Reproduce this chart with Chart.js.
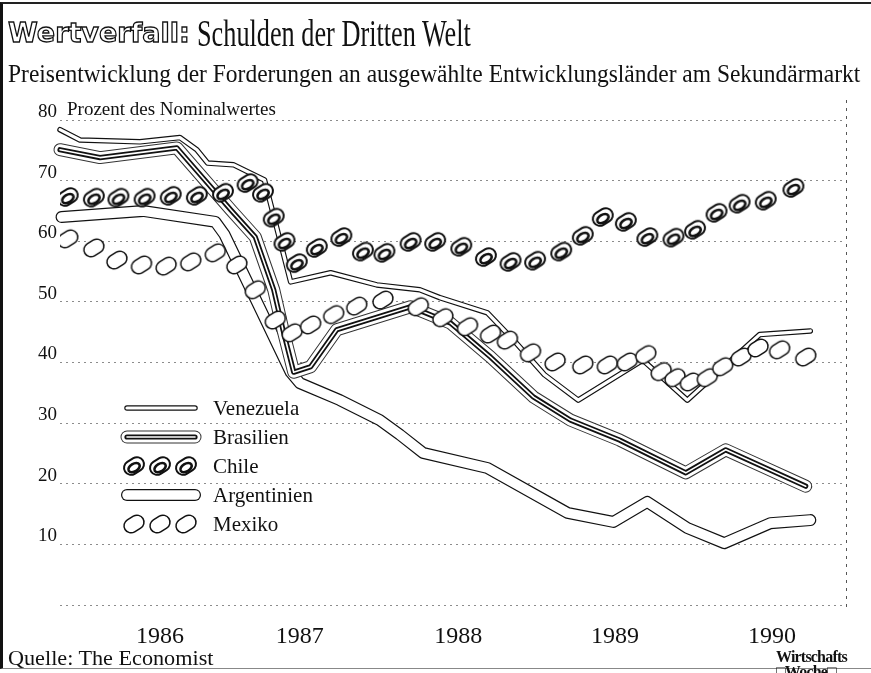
<!DOCTYPE html>
<html>
<head>
<meta charset="utf-8">
<script src="https://cdn.jsdelivr.net/npm/chart.js@4.4.1/dist/chart.umd.min.js"></script>
<style>
html, body { margin: 0; padding: 0; background: #fff; }
#wrap { position: relative; width: 871px; height: 673px; overflow: hidden; font-family: "Liberation Serif", serif; color: #111; }
#frame { position: absolute; left: 0; top: 2px; width: 871px; height: 667px; border-left: 3px solid #111; border-top: 2px solid #222; border-bottom: 1px solid #888; box-sizing: border-box; }
canvas { position: absolute; left: 0; top: 0; }
.t { position: absolute; white-space: nowrap; line-height: 1; transform-origin: 0 0; }
#head { left: 8px; top: 19px; font-family: "DejaVu Sans", sans-serif; font-weight: bold; font-size: 27px; color: #fff; -webkit-text-stroke: 1.3px #111; }
#title { left: 197px; top: 15px; font-size: 37px; }
#sub { left: 8px; top: 61px; font-size: 25px; }
#unit { left: 67px; top: 99px; font-size: 19px; }
#src { left: 8px; top: 648px; font-size: 21px; }
#logo { left: 776px; top: 649px; font-size: 16px; font-weight: bold; letter-spacing: -0.8px; line-height: 15px; }
</style>
</head>
<body>
<div id="wrap">
  <canvas id="graph" width="871" height="673"></canvas>
  <div id="frame"></div>
  <div class="t" id="head">Wertverfall:</div>
  <div class="t" id="title">Schulden der Dritten Welt</div>
  <div class="t" id="sub">Preisentwicklung der Forderungen an ausgewählte Entwicklungsländer am Sekundärmarkt</div>
  <div class="t" id="unit">Prozent des Nominalwertes</div>
  <div class="t" id="src">Quelle: The Economist</div>
  <div class="t" id="logo">Wirtschafts<br>□Woche□</div>
</div>
<script>
// x values are decimal years, y values percent of nominal value
const yearLabels = ['1986', '1987', '1988', '1989', '1990'];
const yearPos = [1986.5, 1987.41, 1988.44, 1989.46, 1990.48];

const venezuelaX = [1985.85, 1985.98, 1986.37, 1986.63, 1986.74, 1986.81, 1986.98, 1987.18, 1987.35, 1987.61, 1987.91, 1988.19, 1988.32, 1988.63, 1988.80, 1989.00, 1989.22, 1989.64, 1989.93, 1990.40, 1990.73];
const venezuelaY = [78.4, 76.7, 76.4, 77.1, 75.1, 72.9, 72.6, 70.1, 53.3, 54.8, 52.8, 52.0, 50.7, 48.2, 43.7, 38.0, 33.8, 40.4, 33.8, 44.6, 45.2];

const brasilienX = [1985.85, 1986.11, 1986.61, 1986.96, 1987.12, 1987.24, 1987.30, 1987.37, 1987.48, 1987.65, 1988.13, 1988.39, 1988.65, 1988.93, 1989.17, 1989.49, 1989.92, 1990.18, 1990.70];
const brasilienY = [75.1, 73.8, 75.4, 65.2, 60.7, 52.0, 45.4, 38.4, 39.3, 45.4, 49.2, 46.5, 40.9, 34.3, 30.5, 27.2, 21.8, 25.6, 19.6];

const chileX = [1985.90, 1986.07, 1986.23, 1986.40, 1986.57, 1986.74, 1986.91, 1987.07, 1987.17, 1987.24, 1987.31, 1987.39, 1987.52, 1987.68, 1987.82, 1987.96, 1988.13, 1988.29, 1988.46, 1988.62, 1988.78, 1988.94, 1989.11, 1989.25, 1989.38, 1989.53, 1989.67, 1989.84, 1989.98, 1990.12, 1990.27, 1990.44, 1990.62];
const chileY = [67.3, 67.2, 67.2, 67.2, 67.5, 67.5, 68.0, 69.6, 68.0, 63.9, 59.9, 56.4, 58.9, 60.7, 58.3, 58.1, 59.9, 59.9, 59.1, 57.4, 56.6, 56.8, 58.3, 60.9, 64.0, 63.2, 60.7, 60.6, 61.9, 64.7, 66.2, 66.7, 68.8];

const argentinienX = [1985.86, 1986.39, 1986.86, 1986.92, 1987.14, 1987.35, 1987.41, 1987.67, 1987.93, 1988.06, 1988.21, 1988.63, 1989.15, 1989.45, 1989.67, 1989.93, 1990.17, 1990.47, 1990.73];
const argentinienY = [64.0, 65.0, 63.2, 61.1, 49.5, 38.4, 36.6, 33.8, 30.5, 28.1, 25.1, 22.6, 15.2, 13.7, 17.0, 12.7, 10.2, 13.5, 14.0];

const mexikoX = [1985.90, 1986.07, 1986.22, 1986.38, 1986.54, 1986.70, 1986.86, 1987.00, 1987.12, 1987.25, 1987.36, 1987.48, 1987.63, 1987.78, 1987.95, 1988.18, 1988.34, 1988.50, 1988.65, 1988.76, 1988.91, 1989.07, 1989.25, 1989.41, 1989.54, 1989.66, 1989.76, 1989.85, 1989.95, 1990.06, 1990.16, 1990.28, 1990.39, 1990.53, 1990.70];
const mexikoY = [60.4, 58.9, 56.9, 56.1, 55.9, 56.6, 58.1, 56.1, 52.0, 47.0, 44.9, 46.2, 47.9, 49.3, 50.3, 49.2, 47.4, 45.9, 44.7, 43.7, 41.6, 40.1, 39.6, 39.6, 40.1, 41.3, 38.5, 37.5, 36.8, 37.5, 39.3, 40.9, 42.4, 42.1, 40.9];

const pts = (xs, ys) => xs.map((x, i) => ({ x: x, y: ys[i] }));

// little slanted capsules used as point marks
function makeOval(bold) {
	const c = document.createElement('canvas');
	c.width = 28; c.height = 24;
	const g = c.getContext('2d');
	g.translate(14, 12);
	g.rotate(-0.55);
	g.beginPath();
	g.roundRect(-10.5, -7, 21, 14, 7);
	g.fillStyle = '#fff';
	g.fill();
	g.lineWidth = bold ? 2 : 1.5;
	g.strokeStyle = '#111';
	g.stroke();
	if (bold) {
		g.beginPath();
		g.ellipse(-0.8, 1.4, 6.2, 3.9, 0, 0, Math.PI * 2);
		g.lineWidth = 2.6;
		g.stroke();
	}
	return c;
}
const chileMark = makeOval(true);
const mexikoMark = makeOval(false);

const serif = '"Liberation Serif", serif';

function strokeLayers(ctx, points, layers) {
	layers.forEach(([w, col]) => {
		ctx.save();
		ctx.lineJoin = 'round';
		ctx.lineCap = 'round';
		ctx.lineWidth = w;
		ctx.strokeStyle = col;
		ctx.beginPath();
		points.forEach((p, k) => (k ? ctx.lineTo(p.x, p.y) : ctx.moveTo(p.x, p.y)));
		ctx.stroke();
		ctx.restore();
	});
}

const hollowLines = {
	id: 'hollowLines',
	beforeDatasetsDraw(chart) {
		const ctx = chart.ctx;
		const a = chart.chartArea;
		// dashed right frame of the plot
		ctx.save();
		ctx.strokeStyle = '#555';
		ctx.lineWidth = 1;
		ctx.setLineDash([3, 5]);
		ctx.beginPath();
		ctx.moveTo(a.right + 0.5, a.top - 20);
		ctx.lineTo(a.right + 0.5, a.bottom + 2);
		ctx.stroke();
		ctx.restore();
		chart.data.datasets
			.map((ds, i) => ({ ds, i }))
			.filter((d) => d.ds.layers)
			.sort((p, q) => p.ds.drawOrder - q.ds.drawOrder)
			.forEach(({ ds, i }) => {
				strokeLayers(ctx, chart.getDatasetMeta(i).data, ds.layers);
			});
	},
	afterDraw(chart) {
		const ctx = chart.ctx;
		const rows = [408, 437, 466, 495, 524];
		chart.data.datasets.forEach((ds, i) => {
			const y = rows[i];
			if (ds.layers) {
				strokeLayers(ctx, [{ x: 127, y: y }, { x: 195, y: y }], ds.layers);
			} else {
				[134, 160, 186].forEach((x) => {
					ctx.drawImage(ds.pointStyle, x - 14, y - 12);
				});
			}
			ctx.save();
			ctx.fillStyle = '#111';
			ctx.font = '21px ' + serif;
			ctx.textBaseline = 'middle';
			ctx.fillText(ds.label, 213, y + 1);
			ctx.restore();
		});
	},
};

const data = {
	datasets: [
		{
			label: 'Venezuela',
			data: pts(venezuelaX, venezuelaY),
			showLine: false,
			pointRadius: 0,
			layers: [[5.5, '#111'], [3.2, '#fff']],
			drawOrder: 2,
		},
		{
			label: 'Brasilien',
			data: pts(brasilienX, brasilienY),
			showLine: false,
			pointRadius: 0,
			layers: [[13, '#333'], [11, '#fff'], [5.2, '#111'], [1.6, '#fff']],
			drawOrder: 3,
		},
		{
			label: 'Chile',
			data: pts(chileX, chileY),
			showLine: false,
			pointStyle: chileMark,
			order: 0,
		},
		{
			label: 'Argentinien',
			data: pts(argentinienX, argentinienY),
			showLine: false,
			pointRadius: 0,
			layers: [[12, '#111'], [9.6, '#fff']],
			drawOrder: 1,
		},
		{
			label: 'Mexiko',
			data: pts(mexikoX, mexikoY),
			showLine: false,
			pointStyle: mexikoMark,
			order: 1,
		},
	],
};

const config = {
	type: 'line',
	data: data,
	options: {
		responsive: false,
		animation: false,
		events: [],
		layout: { padding: { left: 30, right: 25, top: 120, bottom: 23 } },
		scales: {
			x: {
				type: 'linear',
				min: 1985.85,
				max: 1990.962,
				grid: { display: false },
				border: { display: false },
				afterBuildTicks: (s) => {
					s.ticks = yearPos.map((v) => ({ value: v }));
				},
				afterFit: (s) => {
					s.height = 45;
				},
				ticks: {
					autoSkip: false,
					maxRotation: 0,
					padding: 9,
					color: '#111',
					font: { family: serif, size: 24 },
					callback: (v, i) => yearLabels[i],
				},
			},
			y: {
				min: 0,
				max: 80,
				grid: { color: '#8c8c8c', lineWidth: 1, drawTicks: false },
				border: { display: false, dash: [2, 4] },
				afterFit: (s) => {
					s.width = 30;
				},
				ticks: {
					stepSize: 10,
					padding: 3,
					labelOffset: -8,
					color: '#111',
					font: { family: serif, size: 19 },
					callback: (v) => (v === 0 ? '' : String(v)),
				},
			},
		},
		plugins: {
			legend: { display: false },
			tooltip: { enabled: false },
		},
	},
	plugins: [hollowLines],
};

const c = new Chart(document.getElementById('graph'), config);

// squeeze the serif headings to the narrow face of the original
const fit = (id, w) => {
	const el = document.getElementById(id);
	el.style.transform = 'scaleX(' + (w / el.offsetWidth) + ')';
};
fit('head', 182);
fit('title', 274);
fit('sub', 852);
fit('src', 205);
</script>
</body>
</html>
